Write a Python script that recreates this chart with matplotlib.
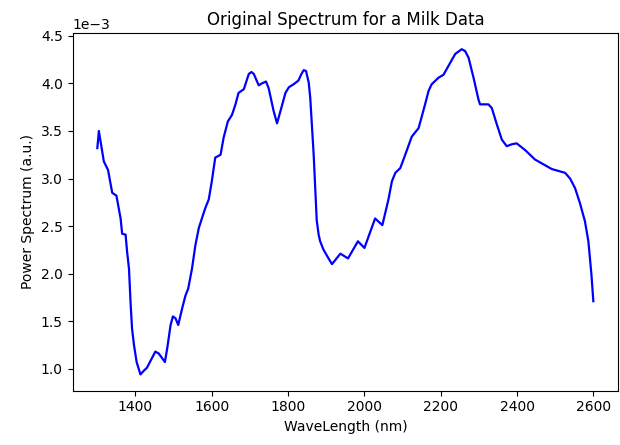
import numpy as np
import matplotlib
matplotlib.use("Agg")
import matplotlib.pyplot as plt

# Milk spectrum (power in 1e-3 units)
wavelength = [1300, 1304, 1317, 1328, 1339, 1350, 1361, 1365, 1374, 1378,
              1383, 1387, 1391, 1396, 1403, 1413, 1422, 1430, 1439, 1452,
              1461, 1470, 1477, 1483, 1492, 1498, 1505, 1512, 1522, 1531,
              1538, 1548, 1557, 1566, 1574, 1583, 1592, 1600, 1609, 1623,
              1631, 1642, 1653, 1662, 1670, 1684, 1697, 1704, 1710, 1723,
              1731, 1742, 1749, 1762, 1771, 1780, 1793, 1802, 1814, 1827,
              1835, 1841, 1847, 1854, 1858, 1867, 1875, 1880, 1884, 1893,
              1906, 1915, 1937, 1957, 1983, 2000, 2028, 2047, 2063, 2072,
              2081, 2094, 2107, 2124, 2142, 2159, 2168, 2176, 2194, 2207,
              2238, 2255, 2264, 2273, 2286, 2299, 2303, 2316, 2325, 2334,
              2347, 2360, 2373, 2386, 2399, 2421, 2447, 2491, 2517, 2526,
              2539, 2552, 2565, 2578, 2587, 2595, 2600]
power = [3.32, 3.50, 3.18, 3.09, 2.85, 2.82, 2.58, 2.42, 2.41, 2.23,
         2.05, 1.70, 1.42, 1.25, 1.07, 0.94, 0.98, 1.01, 1.08, 1.18,
         1.16, 1.11, 1.07, 1.21, 1.46, 1.55, 1.53, 1.46, 1.63, 1.77,
         1.84, 2.05, 2.30, 2.48, 2.58, 2.69, 2.78, 2.97, 3.22, 3.25,
         3.43, 3.60, 3.67, 3.78, 3.90, 3.94, 4.10, 4.12, 4.10, 3.98,
         4.00, 4.02, 3.95, 3.71, 3.58, 3.71, 3.90, 3.96, 3.99, 4.03,
         4.10, 4.14, 4.13, 4.01, 3.85, 3.25, 2.56, 2.41, 2.34, 2.25,
         2.16, 2.10, 2.21, 2.16, 2.34, 2.27, 2.58, 2.51, 2.78, 2.97,
         3.06, 3.11, 3.25, 3.44, 3.53, 3.78, 3.92, 3.99, 4.06, 4.09,
         4.31, 4.36, 4.34, 4.27, 4.06, 3.83, 3.78, 3.78, 3.78, 3.74,
         3.57, 3.41, 3.34, 3.36, 3.37, 3.30, 3.20, 3.10, 3.07, 3.06,
         3.00, 2.90, 2.74, 2.55, 2.34, 1.99, 1.71]

x = np.array(wavelength)
y = np.array(power) * 1e-3

fig = plt.figure(figsize=(6.2, 4.45), dpi=100)
ax = fig.add_axes([0.117, 0.122, 0.880, 0.804])
ax.plot(x, y, color="blue", linewidth=1.6)
ax.ticklabel_format(axis="y", style="sci", scilimits=(0, 0))
ax.set_title("Original Spectrum for a Milk Data")
ax.set_xlabel("WaveLength (nm)")
ax.set_ylabel("Power Spectrum (a.u.)")
fig.savefig("out.png")
